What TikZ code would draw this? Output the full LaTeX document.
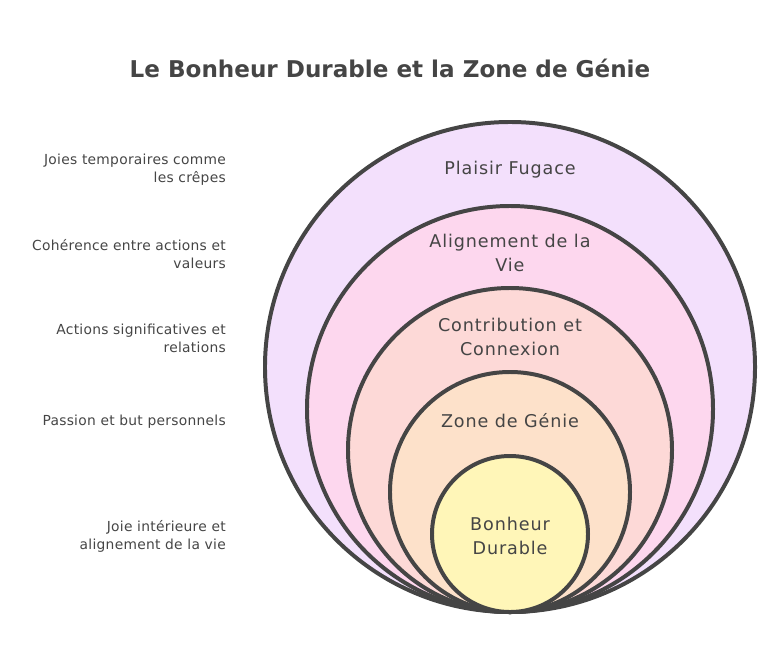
\documentclass[tikz,border=0pt]{standalone}
\usepackage{fontspec}
\setmainfont{DejaVu Sans}
\definecolor{ink}{HTML}{454545}
\definecolor{lilas}{HTML}{F3E0FC}
\definecolor{rose}{HTML}{FDD7EE}
\definecolor{saumon}{HTML}{FDD9D7}
\definecolor{peche}{HTML}{FDE1CA}
\definecolor{jaune}{HTML}{FFF6B8}
\begin{document}
\begin{tikzpicture}[x=0.03cm, y=-0.03cm,
    ring/.style={circle, draw=ink, line width=3.4pt, inner sep=0pt},
    lbl/.style={text=ink, font=\fontsize{15}{20.4}\selectfont\addfontfeatures{LetterSpace=5}, align=center},
    side/.style={text=ink, font=\fontsize{11.8}{15.3}\selectfont\addfontfeatures{LetterSpace=2}, align=right, anchor=east, inner sep=0pt}]
          \useasboundingbox (0, 0) rectangle (780, 661);
          \node[text=ink, font=\fontsize{19.7}{24}\selectfont\bfseries] (title) at (390, 68) {Le Bonheur Durable et la Zone de Génie};
          \node[ring, fill=lilas, minimum size=14.7cm] (fugace) at (510, 367) {};
          \node[ring, fill=rose, minimum size=12.18cm] (vie) at (510, 409) {};
          \node[ring, fill=saumon, minimum size=9.72cm] (connexion) at (510, 450) {};
          \node[ring, fill=peche, minimum size=7.2cm] (genie) at (510, 492) {};
          \node[ring, fill=jaune, minimum size=4.68cm] (bonheur) at (510, 534) {};
          \node[lbl] (tfugace) at ([yshift=-1.5cm]fugace.north) {Plaisir Fugace};
          \node[lbl] (tvie) at ([yshift=-1.48cm]vie.north) {Alignement de la\\Vie};
          \node[lbl] (tconnexion) at ([yshift=-1.53cm]connexion.north) {Contribution et\\Connexion};
          \node[lbl] (tgenie) at ([yshift=-1.53cm]genie.north) {Zone de Génie};
          \node[lbl] (tbonheur) at ([yshift=-0.05cm]bonheur.center) {Bonheur\\Durable};
          \node[side] (dfugace) at (226, 170) {Joies temporaires comme\\les crêpes};
          \node[side] (dvie) at (226, 254) {Cohérence entre actions et\\valeurs};
          \node[side] (dconnexion) at (226, 338) {Actions significatives et\\relations};
          \node[side] (dgenie) at (226, 422) {Passion et but personnels};
          \node[side] (dbonheur) at (226, 536) {Joie intérieure et\\alignement de la vie};
        \end{tikzpicture}
\end{document}
